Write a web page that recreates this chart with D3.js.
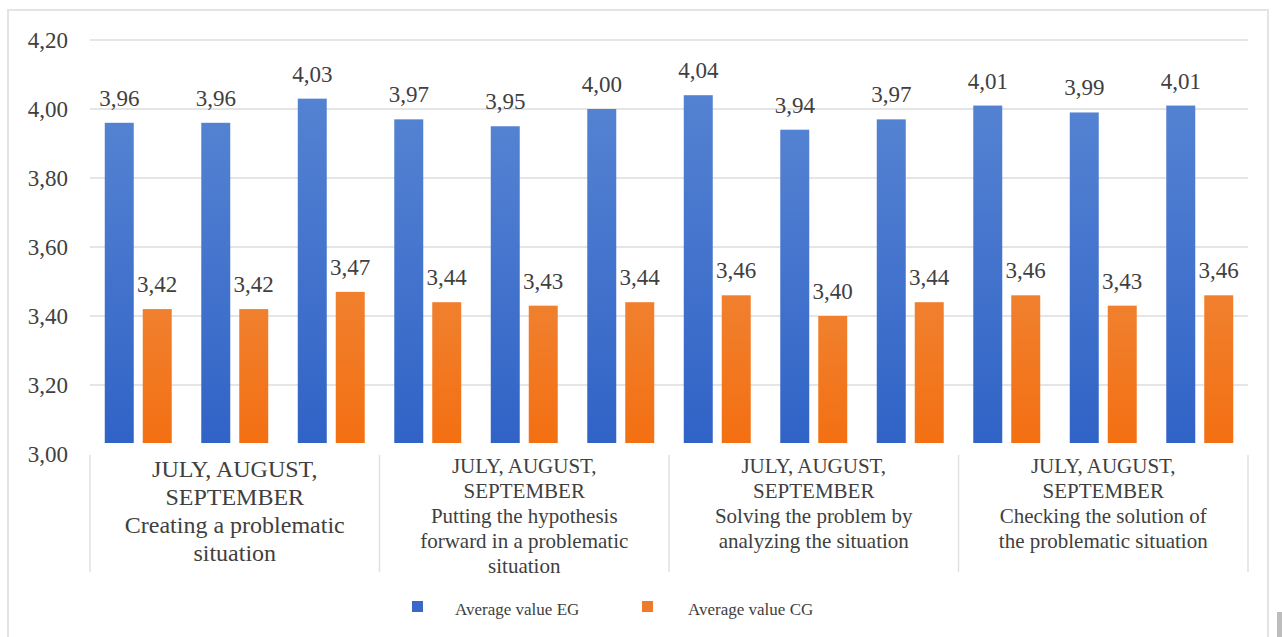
<!DOCTYPE html>
<html>
<head>
<meta charset="utf-8">
<script src="https://cdn.jsdelivr.net/npm/d3@7"></script>
<style>
  body { margin: 0; background: #fff; }
  svg { display: block; }
  svg text { font-family: 'Liberation Serif', 'DejaVu Serif', serif; }
</style>
</head>
<body>
<svg id="chart"></svg>
<script>
// data
const categories = ['c1', 'c2', 'c3', 'c4', 'c5', 'c6', 'c7', 'c8', 'c9', 'c10', 'c11', 'c12'];
const seriesNames = ['Average value EG', 'Average value CG'];
const valuesEG = [3.96, 3.96, 4.03, 3.97, 3.95, 4.00, 4.04, 3.94, 3.97, 4.01, 3.99, 4.01];
const valuesCG = [3.42, 3.42, 3.47, 3.44, 3.43, 3.44, 3.46, 3.40, 3.44, 3.46, 3.43, 3.46];
const yTicks = [3.0, 3.2, 3.4, 3.6, 3.8, 4.0, 4.2];
const groupLabels = [
  ['JULY, AUGUST,', 'SEPTEMBER', 'Creating a problematic', 'situation'],
  ['JULY, AUGUST,', 'SEPTEMBER', 'Putting the hypothesis', 'forward in a problematic', 'situation'],
  ['JULY, AUGUST,', 'SEPTEMBER', 'Solving the problem by', 'analyzing the situation'],
  ['JULY, AUGUST,', 'SEPTEMBER', 'Checking the solution of', 'the problematic situation']
];

const W = 1282, H = 637;
const plot = {left: 90, right: 1248, top: 40, bottom: 454};
const barFloor = 443; // bars are cut off above the category area
const textColor = '#404040';

const svg = d3.select('#chart').attr('width', W).attr('height', H);

// frame
svg.append('path')
  .attr('d', 'M8,' + H + 'V10H1268V' + H)
  .attr('fill', 'none')
  .attr('stroke', '#e4e4e4')
  .attr('stroke-width', 2);
svg.append('rect')
  .attr('x', 1277).attr('y', 612).attr('width', 5).attr('height', 25)
  .attr('fill', '#bdbdbd');

// scales
const y = d3.scaleLinear().domain([3.0, 4.2]).range([plot.bottom, plot.top]);
const x0 = d3.scaleBand().domain(categories).range([plot.left, plot.right])
  .paddingInner(0.306).paddingOuter(0.153);
const x1 = d3.scaleBand().domain(seriesNames).range([0, x0.bandwidth()])
  .paddingInner(0.237);
const groupX = d3.scaleLinear().domain([0, groupLabels.length]).range([plot.left, plot.right]);
const fmt = v => d3.format('.2f')(v).replace('.', ',');

// gradients
const defs = svg.append('defs');
const grads = [
  {id: 'gEG', top: '#5482d2', bottom: '#2f62c6'},
  {id: 'gCG', top: '#f0802e', bottom: '#f46e10'}
];
grads.forEach(g => {
  const lg = defs.append('linearGradient').attr('id', g.id)
    .attr('x1', 0).attr('y1', 0).attr('x2', 0).attr('y2', 1);
  lg.append('stop').attr('offset', '0%').attr('stop-color', g.top);
  lg.append('stop').attr('offset', '100%').attr('stop-color', g.bottom);
});
defs.append('clipPath').attr('id', 'plotClip')
  .append('rect')
  .attr('x', plot.left).attr('y', 0)
  .attr('width', plot.right - plot.left).attr('height', barFloor);

// gridlines (3,00 line is hidden by the category area)
svg.append('g')
  .selectAll('line')
  .data(yTicks.filter(t => t > 3.0))
  .enter()
  .append('line')
  .attr('x1', plot.left).attr('x2', plot.right)
  .attr('y1', d => y(d)).attr('y2', d => y(d))
  .attr('stroke', '#dcdcdc')
  .attr('stroke-width', 1.5);

// y axis labels
const yAxis = svg.append('g')
  .attr('transform', 'translate(' + (plot.left - 22) + ',0)')
  .call(d3.axisLeft(y).tickValues(yTicks).tickFormat(fmt).tickSize(0).tickPadding(0));
yAxis.attr('font-family', null).attr('font-size', null);
yAxis.select('.domain').remove();
yAxis.selectAll('text')
  .style('font-size', '23px')
  .attr('fill', textColor)
  .attr('dy', '0.34em');

// bars
const rows = categories.map((c, i) => ({cat: c, vals: [valuesEG[i], valuesCG[i]]}));
const barsG = svg.append('g').attr('clip-path', 'url(#plotClip)');
const catG = barsG.selectAll('g.cat')
  .data(rows)
  .enter()
  .append('g')
  .attr('class', 'cat')
  .attr('transform', d => 'translate(' + x0(d.cat) + ',0)');
catG.selectAll('rect')
  .data(d => d.vals.map((v, k) => ({name: seriesNames[k], v: v, k: k})))
  .enter()
  .append('rect')
  .attr('x', d => x1(d.name))
  .attr('y', d => y(d.v))
  .attr('width', x1.bandwidth())
  .attr('height', d => y(3.0) - y(d.v))
  .attr('fill', d => d.k === 0 ? 'url(#gEG)' : 'url(#gCG)');

// data labels
const labelsG = svg.append('g');
rows.forEach(r => {
  r.vals.forEach((v, k) => {
    labelsG.append('text')
      .attr('x', x0(r.cat) + x1(seriesNames[k]) + x1.bandwidth() / 2)
      .attr('y', y(v) - 17)
      .attr('text-anchor', 'middle')
      .style('font-size', '23px')
      .attr('fill', textColor)
      .text(fmt(v));
  });
});

// category group separators
svg.append('g')
  .selectAll('line')
  .data(d3.range(groupLabels.length + 1))
  .enter()
  .append('line')
  .attr('x1', d => groupX(d)).attr('x2', d => groupX(d))
  .attr('y1', 455).attr('y2', 572)
  .attr('stroke', '#e0e0e0')
  .attr('stroke-width', 1.5);

// category group labels
groupLabels.forEach((lines, gi) => {
  const first = gi === 0;
  const size = first ? 24 : 21;
  const lead = first ? 28 : 25;
  const base = first ? 477 : 473;
  const t = svg.append('text')
    .attr('text-anchor', 'middle')
    .style('font-size', size + 'px')
    .attr('fill', textColor);
  lines.forEach((ln, li) => {
    t.append('tspan')
      .attr('x', (groupX(gi) + groupX(gi + 1)) / 2)
      .attr('y', base + li * lead)
      .text(ln);
  });
});

// legend
const legendItems = [
  {name: seriesNames[0], color: '#3a68c8', sx: 412, tx: 455},
  {name: seriesNames[1], color: '#ef7a2c', sx: 642, tx: 688}
];
const legend = svg.append('g');
legendItems.forEach(li => {
  legend.append('rect')
    .attr('x', li.sx).attr('y', 601)
    .attr('width', 11).attr('height', 11)
    .attr('fill', li.color);
  legend.append('text')
    .attr('x', li.tx).attr('y', 615)
    .style('font-size', '17px')
    .attr('fill', textColor)
    .text(li.name);
});
</script>
</body>
</html>
